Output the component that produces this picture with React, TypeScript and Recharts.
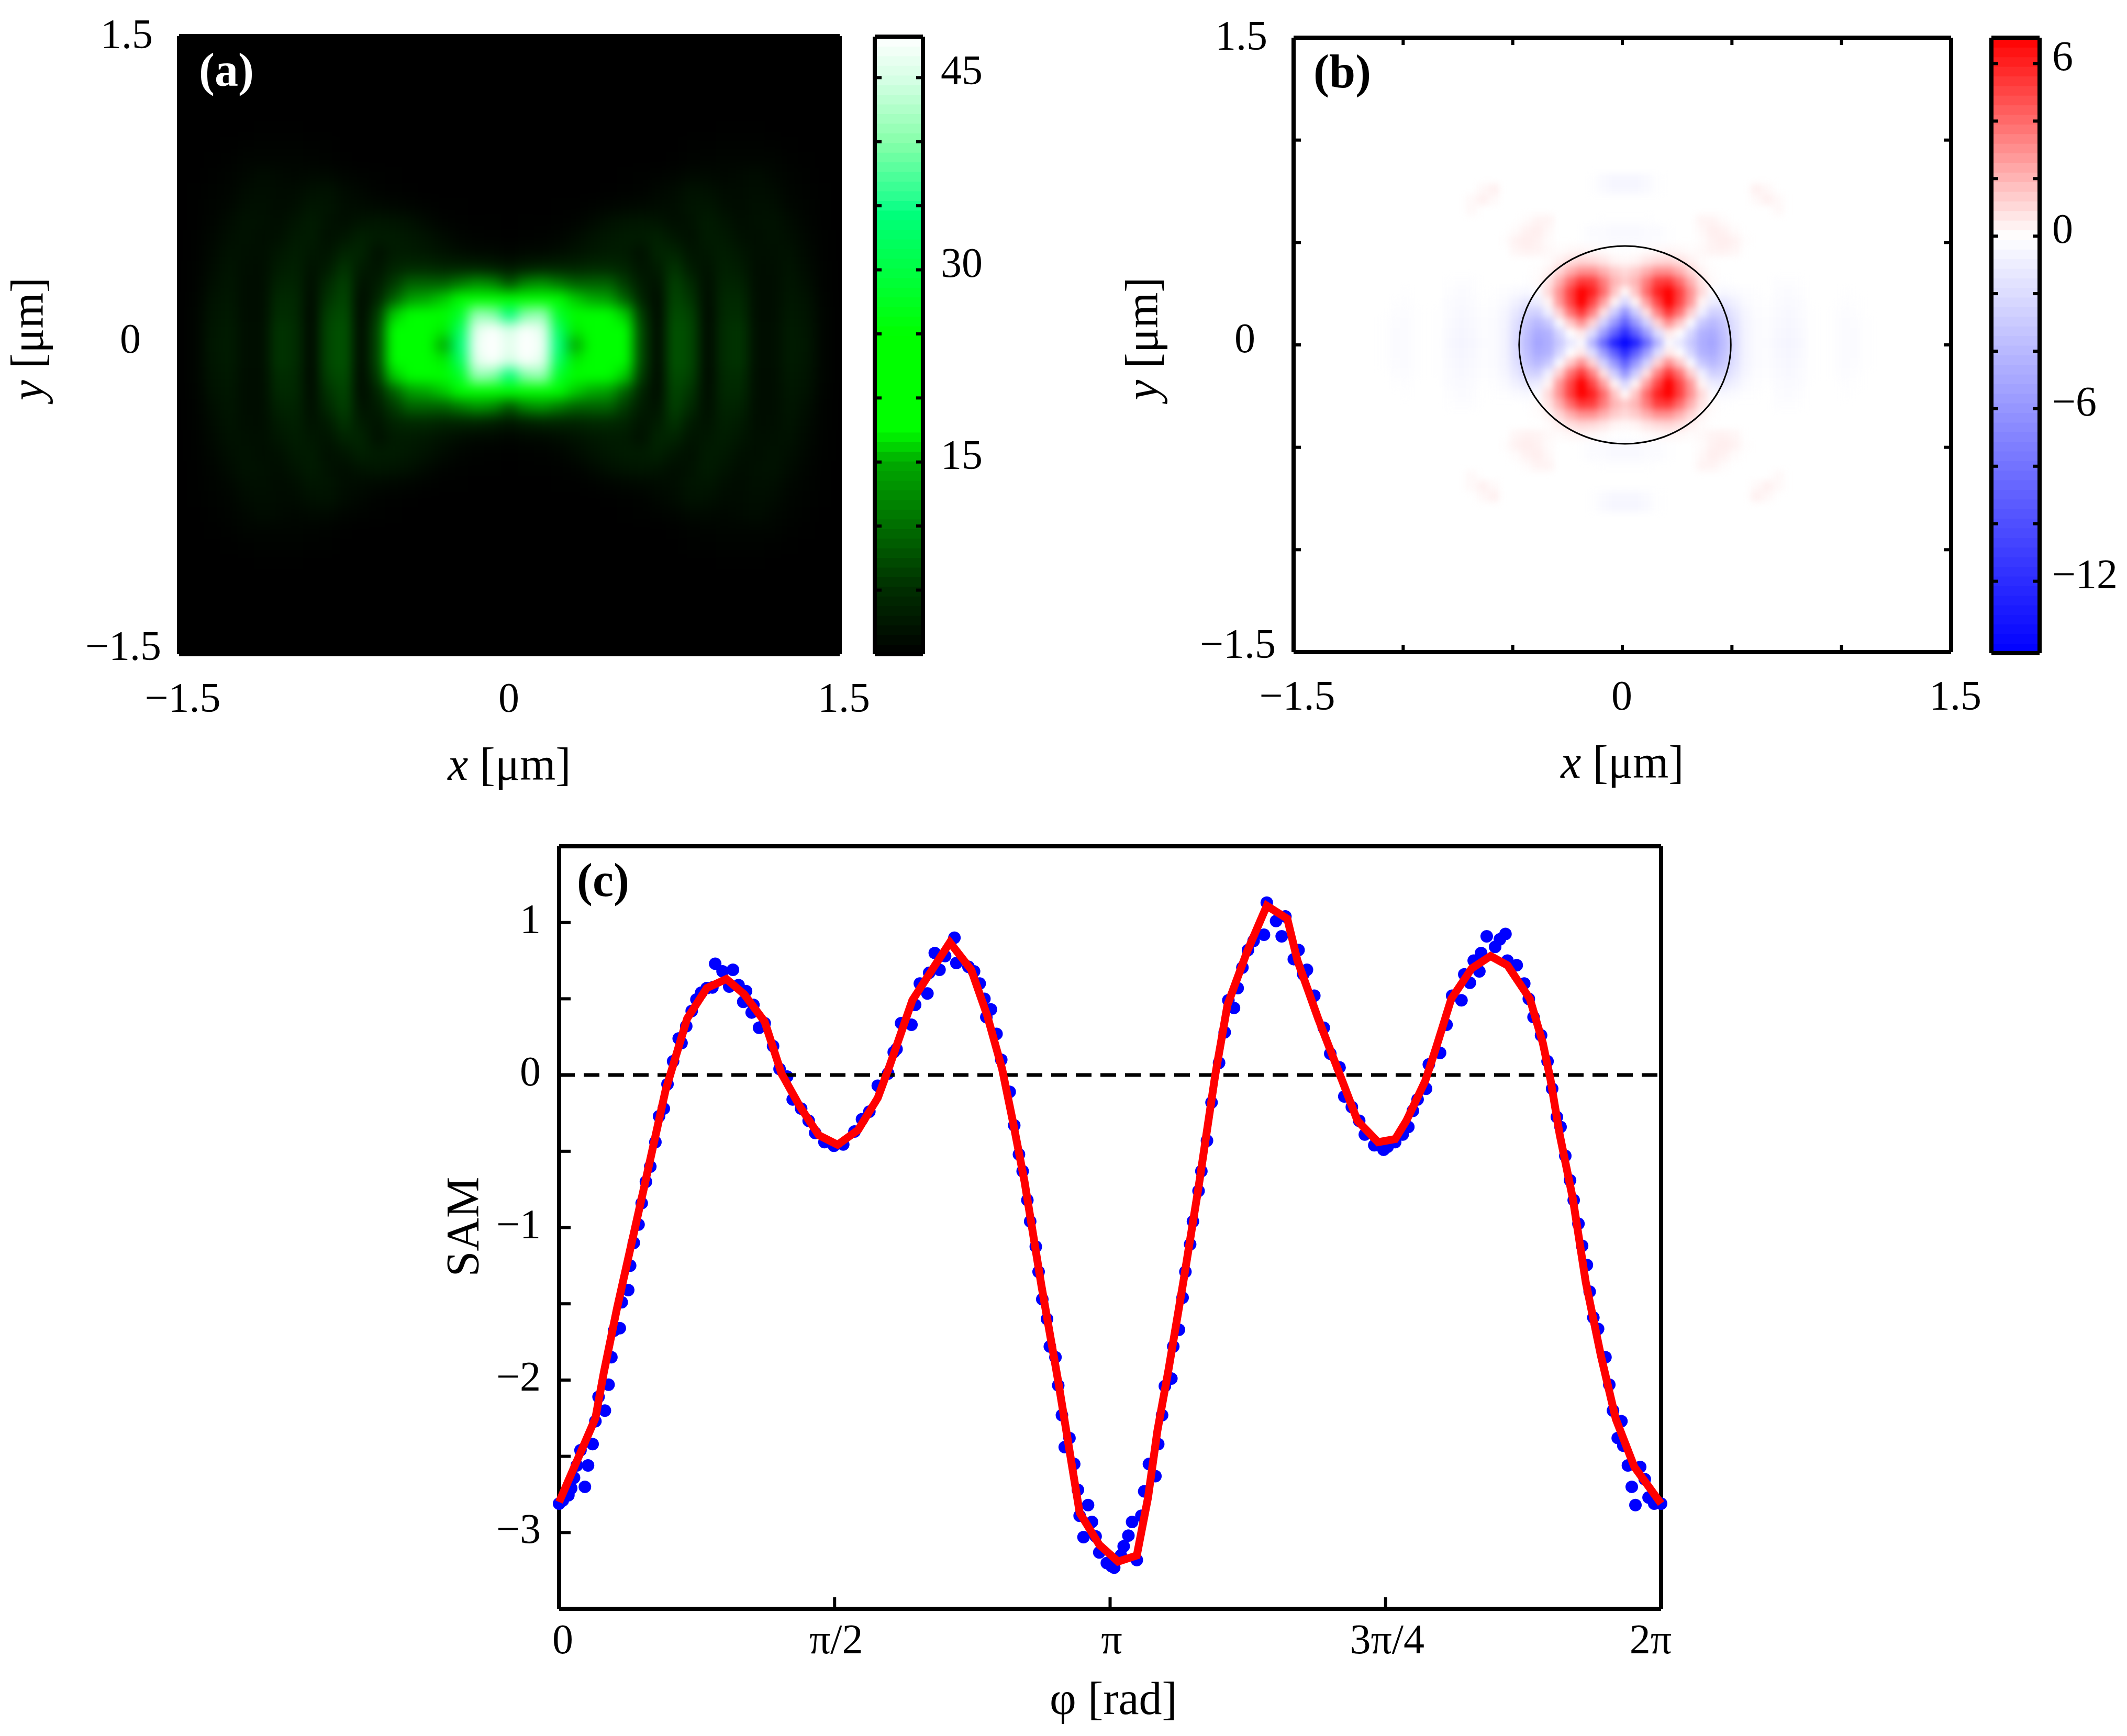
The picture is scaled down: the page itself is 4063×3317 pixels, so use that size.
import { ComposedChart, Line, ReferenceDot, ReferenceLine, Scatter, XAxis, YAxis } from "recharts";

const PAGE_W = 4063;
const PAGE_H = 3317;
const SERIF = "'Liberation Serif', serif";

// SAM panel, values: [phi in rad, SAM]
const samDots = [
  [0, -2.81], [0.021, -2.79], [0.053, -2.755], [0.069, -2.71], [0.085, -2.64], [0.101, -2.56], [0.122, -2.46],
  [0.147, -2.7], [0.165, -2.56], [0.191, -2.42], [0.207, -2.27], [0.261, -2.2], [0.225, -2.11], [0.282, -2.03],
  [0.298, -1.85], [0.314, -1.675], [0.346, -1.66], [0.357, -1.49], [0.394, -1.41], [0.405, -1.25], [0.426, -1.1],
  [0.453, -0.98], [0.471, -0.84], [0.495, -0.7], [0.52, -0.6], [0.549, -0.44], [0.57, -0.27], [0.597, -0.22],
  [0.618, -0.06], [0.65, 0.09], [0.682, 0.24], [0.698, 0.21], [0.725, 0.32], [0.756, 0.42], [0.783, 0.495],
  [0.81, 0.54], [0.842, 0.57], [0.874, 0.574], [0.89, 0.73], [0.932, 0.68], [0.991, 0.69], [0.97, 0.58],
  [1.023, 0.59], [1.066, 0.55], [1.05, 0.48], [1.108, 0.46], [1.098, 0.41], [1.172, 0.34], [1.14, 0.31],
  [1.22, 0.19], [1.257, 0.04], [1.3, -0.01], [1.332, -0.16], [1.38, -0.22], [1.423, -0.3], [1.46, -0.38],
  [1.513, -0.44], [1.567, -0.464], [1.62, -0.455], [1.684, -0.37], [1.727, -0.29], [1.769, -0.24], [1.817, -0.07],
  [1.876, 0.01], [1.908, 0.15], [1.924, 0.17], [1.95, 0.34], [2.009, 0.33], [2.03, 0.46], [2.057, 0.6],
  [2.1, 0.535], [2.11, 0.67], [2.169, 0.69], [2.142, 0.8], [2.201, 0.78], [2.254, 0.9], [2.265, 0.735],
  [2.334, 0.71], [2.366, 0.68], [2.398, 0.6], [2.425, 0.5], [2.462, 0.43], [2.436, 0.38], [2.494, 0.27],
  [2.521, 0.1], [2.569, -0.11], [2.595, -0.33], [2.622, -0.52], [2.643, -0.63], [2.67, -0.82], [2.686, -0.96],
  [2.718, -1.125], [2.734, -1.29], [2.755, -1.47], [2.782, -1.6], [2.798, -1.78], [2.83, -1.85], [2.846, -2.035],
  [2.867, -2.23], [2.91, -2.38], [2.883, -2.44], [2.937, -2.55], [2.958, -2.72], [3.016, -2.82], [2.968, -2.89],
  [3.038, -2.93], [2.99, -3.03], [3.059, -3.025], [3.08, -3.13], [3.123, -3.2], [3.15, -3.22], [3.165, -3.23],
  [3.203, -3.15], [3.219, -3.09], [3.246, -3.02], [3.267, -2.93], [3.294, -3.18], [3.32, -2.89], [3.336, -2.73],
  [3.363, -2.55], [3.4, -2.63], [3.416, -2.42], [3.438, -2.23], [3.454, -2.04], [3.491, -1.99], [3.502, -1.78],
  [3.534, -1.67], [3.555, -1.46], [3.571, -1.29], [3.598, -1.11], [3.614, -0.96], [3.646, -0.76], [3.662, -0.63],
  [3.694, -0.43], [3.72, -0.18], [3.763, 0.08], [3.795, 0.28], [3.816, 0.49], [3.848, 0.44], [3.869, 0.57],
  [3.896, 0.705], [3.928, 0.82], [3.96, 0.88], [4.019, 0.92], [4.035, 1.13], [4.088, 1.01], [4.12, 0.91],
  [4.141, 1.04], [4.189, 0.76], [4.216, 0.82], [4.243, 0.66], [4.264, 0.69], [4.306, 0.52], [4.36, 0.31],
  [4.397, 0.14], [4.45, 0.05], [4.477, -0.14], [4.52, -0.21], [4.562, -0.3], [4.594, -0.39], [4.648, -0.46],
  [4.701, -0.49], [4.724, -0.47], [4.767, -0.44], [4.81, -0.39], [4.842, -0.34], [4.868, -0.235], [4.895, -0.16],
  [4.943, -0.09], [4.959, 0.07], [5.023, 0.145], [5.06, 0.33], [5.092, 0.52], [5.145, 0.49], [5.161, 0.66],
  [5.193, 0.605], [5.215, 0.75], [5.247, 0.68], [5.257, 0.8], [5.289, 0.91], [5.337, 0.84], [5.364, 0.89],
  [5.396, 0.925], [5.407, 0.75], [5.46, 0.72], [5.503, 0.6], [5.529, 0.5], [5.556, 0.38], [5.599, 0.26],
  [5.636, 0.09], [5.662, -0.09], [5.689, -0.275], [5.71, -0.34], [5.737, -0.53], [5.764, -0.69], [5.785, -0.82],
  [5.812, -0.975], [5.833, -1.12], [5.86, -1.245], [5.876, -1.42], [5.897, -1.59], [5.924, -1.665], [5.966, -1.85],
  [5.988, -2.03], [6.009, -2.2], [6.057, -2.27], [6.036, -2.38], [6.068, -2.43], [6.094, -2.56], [6.116, -2.7],
  [6.137, -2.82], [6.164, -2.57], [6.19, -2.65], [6.212, -2.77], [6.244, -2.81], [6.283, -2.81],
];

const samFit = [
  [0, -2.8], [0.207, -2.25], [0.255, -1.95], [0.33, -1.53], [0.479, -0.765], [0.607, -0.1], [0.73, 0.37],
  [0.842, 0.57], [0.954, 0.63], [1.055, 0.53], [1.172, 0.35], [1.268, 0.01], [1.375, -0.21], [1.481, -0.395],
  [1.588, -0.457], [1.705, -0.36], [1.817, -0.15], [1.886, 0.065], [2.014, 0.49], [2.228, 0.87], [2.35, 0.69],
  [2.441, 0.39], [2.526, 0.04], [2.59, -0.32], [2.654, -0.7], [2.75, -1.38], [2.846, -2.01], [2.968, -2.87],
  [3.08, -3.08], [3.187, -3.19], [3.294, -3.15], [3.358, -2.77], [3.411, -2.335], [3.475, -1.93], [3.56, -1.35],
  [3.646, -0.735], [3.741, 0], [3.811, 0.46], [3.923, 0.81], [4.035, 1.11], [4.152, 1.025], [4.21, 0.75],
  [4.328, 0.37], [4.466, -0.04], [4.552, -0.3], [4.669, -0.44], [4.767, -0.42], [4.831, -0.3], [4.938, -0.04],
  [5.002, 0.185], [5.087, 0.5], [5.204, 0.7], [5.311, 0.78], [5.407, 0.72], [5.535, 0.5], [5.609, 0.21],
  [5.652, -0.025], [5.705, -0.39], [5.78, -0.81], [5.854, -1.36], [5.94, -1.84], [6.025, -2.255], [6.131, -2.57],
  [6.283, -2.81],
];

const samYTicks = [1, 0.5, 0, -0.5, -1, -1.5, -2, -2.5, -3];
const samYLabels = [1, 0, -1, -2, -3];
const samXTicks = [0, Math.PI / 2, Math.PI, (3 * Math.PI) / 2, 2 * Math.PI];
const samXLabels = ["0", "π/2", "π", "3π/4", "2π"];

// intensity map (a), one quadrant, the map is symmetric
// rows go y = 0, 0.075, ... and columns x = 0, 0.075, ...
const intensityStep = 0.075;
const intensityRows = [
  [46, 50, 47, 34, 15, 21, 24, 19, 7, 1, 8, 7, 1, 5, 5.5, 1.5, 1.5, 3, 2.5, 0.6],
  [45, 48, 46, 32, 17, 20, 23, 19, 7, 1, 8, 7, 1, 5, 5.5, 1.5, 1.5, 3, 2.4, 0.6],
  [34, 40, 41, 28, 19, 20, 20, 16, 6, 1, 7.5, 6.5, 1, 4.6, 5, 1.4, 1.4, 2.8, 2.2, 0.5],
  [20, 23, 25, 20, 16, 15, 14, 9, 4, 1.2, 7, 5.5, 1.2, 4.4, 4.6, 1.4, 1.4, 2.6, 2, 0.4],
  [8, 12, 13, 11, 9, 9, 9, 6, 3, 2, 6.5, 4.5, 1.5, 4, 3.8, 1.4, 1.4, 2.4, 1.6, 0.3],
  [2.5, 3.5, 4, 4, 4, 4.5, 4.5, 4, 2.2, 3, 5.5, 3, 2, 3.6, 3, 1.4, 1.6, 2.2, 1.2, 0.3],
  [0.6, 1, 1, 1.4, 2, 2.6, 3, 3, 1.8, 4, 4, 2.2, 2.5, 3.2, 2.4, 1.5, 1.8, 2, 1, 0.2],
  [0.1, 0.2, 0.3, 0.5, 1.2, 2, 2.6, 3, 3, 3.6, 2.4, 1.8, 3, 2.8, 1.8, 1.6, 2, 1.6, 0.8, 0.2],
  [0, 0.1, 0.1, 0.2, 0.4, 1, 1.8, 2.2, 2.4, 2.2, 1.5, 2, 3, 2.2, 1.4, 1.8, 2, 1.2, 0.6, 0.15],
  [0, 0, 0.05, 0.1, 0.1, 0.3, 0.5, 0.8, 1, 1.2, 1.4, 2.2, 2.4, 1.6, 1.2, 1.8, 1.6, 0.8, 0.4, 0.1],
  [0, 0, 0, 0, 0, 0.05, 0.1, 0.2, 0.3, 0.8, 1.2, 2, 1.8, 1.2, 1.2, 1.6, 1.2, 0.6, 0.3, 0.1],
  [0, 0, 0, 0, 0, 0, 0.05, 0.1, 0.2, 0.3, 0.6, 1, 1, 0.8, 1, 1.3, 0.8, 0.4, 0.2, 0.05],
  [0, 0, 0, 0, 0, 0, 0, 0, 0.05, 0.05, 0.1, 0.3, 0.4, 0.5, 0.6, 0.6, 0.5, 0.2, 0.1],
  [0, 0, 0, 0, 0, 0, 0, 0, 0, 0, 0, 0.2, 0.2, 0.3, 0.3, 0.3, 0.2, 0.1],
  [0, 0, 0, 0, 0, 0, 0, 0, 0, 0, 0, 0, 0.05, 0.1, 0.1, 0.1, 0.05],
];

// spin map (b), one quadrant, rows y = 0, 0.05, ... and columns x = 0, 0.05, ...
const spinStep = 0.05;
const spinCenter = [0.012, 0.01];
const spinRows = [
  [-14.5, -12.5, -8.5, -4.2, -0.3, -1.2, -3, -4.6, -5.2, -3.8, -2, -0.7, -0.25, -0.2, -0.45, -0.55, -0.4, -0.08, 0, -0.08, -0.25, -0.25, -0.05],
  [-12, -9, -5.5, -1.8, 0.6, 0, -2.2, -4.3, -4.8, -3.6, -1.9, -0.7, -0.2, -0.15, -0.4, -0.5, -0.35, -0.05, 0, -0.05, -0.2, -0.2, -0.05],
  [-9, -5.8, -2.5, 1.2, 3, 1.5, -0.3, -3, -4, -3.2, -1.7, -0.6, -0.2, -0.15, -0.35, -0.45, -0.3, -0.05, 0, -0.05, -0.2, -0.15, -0.05],
  [-6, -2.8, 0.8, 3.4, 5.4, 3.8, 1.3, -0.8, -2.6, -2.4, -1.3, -0.5, -0.15, -0.1, -0.3, -0.4, -0.25, -0.03, 0, -0.03, -0.15, -0.1],
  [-2.2, 0.3, 2.6, 5, 6.9, 5, 2.8, 0.3, -1, -1.3, -0.8, -0.3, -0.1, -0.05, -0.25, -0.3, -0.2, 0, 0, 0, -0.1, -0.05],
  [0.1, 1.6, 4, 6, 6.9, 5.2, 3, 1, -0.2, -0.4, -0.3, -0.1, -0.05, 0, -0.15, -0.2, -0.1, 0, 0, 0, -0.05],
  [1.4, 2, 3.6, 5.2, 5.4, 4, 2.2, 0.7, 0.1, -0.05, 0, 0, 0, 0, -0.1, -0.1, -0.05],
  [1, 1.4, 2.2, 3, 3, 2.2, 1.1, 0.3, 0.05],
  [0.2, 0.3, 0.7, 1, 1.1, 0.8, 0.4, 0.1],
  [-0.05, 0, 0.1, 0.2, 0.25, 0.2, 0.1, 0.15, 0.3, 0.35, 0.25],
  [-0.3, -0.3, -0.25, -0.15, -0.05, 0, 0, 0.1, 0.35, 0.5, 0.35, 0.05],
  [-0.35, -0.35, -0.25, -0.2, -0.05, 0, 0, 0.2, 0.45, 0.35, 0.1],
  [-0.05, -0.05, -0.03, 0, 0, 0, 0, 0.3, 0.3, 0.1],
  [0, 0, 0, 0, 0, 0, 0, 0, 0, 0, 0, 0, 0, 0, 0.2],
  [0, 0, 0, 0, 0, 0, 0, 0, 0, 0, 0, 0, 0.15, 0.4, 0.15],
  [-0.45, -0.45, -0.3, -0.08, 0, 0, 0, 0, 0, 0, 0, 0, 0.4, 0.2],
  [-0.5, -0.5, -0.35, -0.08],
];
const spinRingRadius = 0.483;

const heatTicks = [-1.5, -1, -0.5, 0, 0.5, 1, 1.5];
const heatLabels = [-1.5, 0, 1.5];

const intensityBarTicks = [5, 10, 15, 20, 25, 30, 35, 40, 45];
const intensityBarLabels = [15, 30, 45];
const spinBarTicks = [-12, -10, -8, -6, -4, -2, 0, 2, 4, 6];
const spinBarLabels = [-12, -6, 0, 6];

const greenStops = [
  [0, 0, 0, 0], [5, 0, 45, 0], [10, 0, 110, 0], [15, 0, 170, 0], [17.5, 0, 255, 0], [25, 0, 255, 0],
  [34.7, 0, 255, 128], [35.2, 30, 255, 140], [40, 135, 255, 170], [45, 215, 255, 230], [48.2, 255, 255, 255],
];
const spinStops = [
  [-14.5, 0, 0, 255], [0, 255, 255, 255], [6.9, 255, 0, 0],
];

const BAND_COUNT = 64;

function colorOf(stops: number[][], v: number) {
  if (v <= stops[0][0]) return `rgb(${stops[0][1]},${stops[0][2]},${stops[0][3]})`;
  for (let i = 1; i < stops.length; i++) {
    if (v <= stops[i][0]) {
      const a = stops[i - 1];
      const b = stops[i];
      const t = (v - a[0]) / (b[0] - a[0]);
      const c = [1, 2, 3].map((k) => Math.round(a[k] + (b[k] - a[k]) * t));
      return `rgb(${c[0]},${c[1]},${c[2]})`;
    }
  }
  const last = stops[stops.length - 1];
  return `rgb(${last[1]},${last[2]},${last[3]})`;
}

function quadrantCells(rows: number[][], step: number, cx = 0, cy = 0) {
  const cells: { x: number; y: number; v: number }[] = [];
  rows.forEach((row, j) => {
    row.forEach((v, i) => {
      if (v === 0) return;
      for (const sx of i === 0 ? [1] : [-1, 1]) {
        for (const sy of j === 0 ? [1] : [-1, 1]) {
          cells.push({ x: cx + sx * i * step, y: cy + sy * j * step, v });
        }
      }
    });
  });
  return cells;
}

function bandCells(lo: number, hi: number) {
  const h = (hi - lo) / BAND_COUNT;
  return Array.from({ length: BAND_COUNT }, (_, i) => ({ x: 0.5, y: lo + (i + 0.5) * h, v: lo + (i + 0.5) * h }));
}

const minus = (v: number | string) => String(v).replace("-", "\u2212");
const blankTick = () => <g />;

function chartMargin(r: { left: number; top: number; right: number; bottom: number }) {
  return { left: r.left, top: r.top, right: PAGE_W - r.right, bottom: PAGE_H - r.bottom };
}

const pageChart = { width: PAGE_W, height: PAGE_H, style: { position: "absolute", left: 0, top: 0 } } as const;
const frameLine = { stroke: "#000", strokeWidth: 8 };
const tickStroke = { stroke: "#000", strokeWidth: 6 };

function cellShape(w: number, h: number, stops: number[][]) {
  return (p: any) => (
    <rect x={p.cx - w / 2 - 0.5} y={p.cy - h / 2 - 0.5} width={w + 1} height={h + 1} fill={colorOf(stops, p.payload.v)} />
  );
}

function HeatPanel({ rect, rows, step, center, stops, blurId, bg, tag, tagFill, children }: any) {
  const w = rect.right - rect.left;
  const h = rect.bottom - rect.top;
  const cells = quadrantCells(rows, step, center[0], center[1]);

  const xTick = (p: any) => {
    const v = p.payload.value;
    if (!heatLabels.includes(v)) return <g />;
    const shift = v < 0 ? 7 : v > 0 ? 8 : -1;
    return (
      <text x={p.payload.coordinate + shift} y={rect.bottom + 110} textAnchor="middle" fontFamily={SERIF} fontSize={80}>
        {minus(v)}
      </text>
    );
  };
  const yTick = (p: any) => {
    const v = p.payload.value;
    if (!heatLabels.includes(v)) return <g />;
    const right = v > 0 ? rect.left - 50 : v < 0 ? rect.left - 34 : rect.left - 73;
    const shift = v > 0 ? 23 : v < 0 ? 11 : 14;
    return (
      <text x={right} y={p.payload.coordinate + shift} textAnchor="end" fontFamily={SERIF} fontSize={80}>
        {minus(v)}
      </text>
    );
  };

  return (
    <div className={blurId}>
      <ComposedChart {...pageChart} margin={chartMargin(rect)}>
        <rect x={rect.left} y={rect.top} width={w} height={h} fill={bg} />
        <XAxis xAxisId="b" type="number" dataKey="x" domain={[-1.5, 1.5]} ticks={heatTicks} interval={0} orientation="bottom" mirror
          tickSize={14} axisLine={frameLine} tickLine={tickStroke} tick={xTick} allowDataOverflow />
        <XAxis xAxisId="t" type="number" dataKey="x" domain={[-1.5, 1.5]} ticks={heatTicks} interval={0} orientation="top" mirror
          tickSize={14} axisLine={frameLine} tickLine={tickStroke} tick={blankTick} allowDataOverflow />
        <YAxis yAxisId="l" type="number" dataKey="y" domain={[-1.5, 1.5]} ticks={heatTicks} interval={0} orientation="left" mirror
          tickSize={14} axisLine={frameLine} tickLine={tickStroke} tick={yTick} allowDataOverflow />
        <YAxis yAxisId="r" type="number" dataKey="y" domain={[-1.5, 1.5]} ticks={heatTicks} interval={0} orientation="right" mirror
          tickSize={14} axisLine={frameLine} tickLine={tickStroke} tick={blankTick} allowDataOverflow />
        <Scatter xAxisId="b" yAxisId="l" data={cells} isAnimationActive={false}
          shape={cellShape((step / 3) * w, (step / 3) * h, stops)} />
        {children}
        <text x={rect.left + 38} y={rect.top + 95} fontFamily={SERIF} fontWeight="bold" fontSize={90} fill={tagFill}>{tag}</text>
        <text x={(rect.left + rect.right) / 2} y={rect.bottom + 240} textAnchor="middle" fontFamily={SERIF} fontSize={88}>
          <tspan fontStyle="italic">x</tspan> [{"\u03bc"}m]
        </text>
        <text transform={`translate(${rect.left - 260} ${(rect.top + rect.bottom) / 2 - 12}) rotate(-90)`} textAnchor="middle" fontFamily={SERIF} fontSize={88}>
          <tspan fontStyle="italic">y</tspan> [{"\u03bc"}m]
        </text>
      </ComposedChart>
    </div>
  );
}

function ColorBar({ rect, lo, hi, stops, ticks, labels, labelX }: any) {
  const w = rect.right - rect.left;
  const h = rect.bottom - rect.top;
  const cells = bandCells(lo, hi);
  const labelTick = (p: any) =>
    labels.includes(p.payload.value) ? (
      <text x={labelX} y={p.payload.coordinate + 13} fontFamily={SERIF} fontSize={80}>{minus(p.payload.value)}</text>
    ) : (
      <g />
    );
  const xAxisProps = { type: "number", dataKey: "x", domain: [0, 1], mirror: true, hide: true } as const;
  return (
    <>
      <ComposedChart {...pageChart} margin={chartMargin(rect)}>
        <XAxis xAxisId="b" {...xAxisProps} orientation="bottom" />
        <YAxis yAxisId="l" type="number" dataKey="y" domain={[lo, hi]} orientation="left" mirror hide allowDataOverflow />
        <Scatter xAxisId="b" yAxisId="l" data={cells} isAnimationActive={false} shape={cellShape(w, h / BAND_COUNT, stops)} />
      </ComposedChart>
      <ComposedChart {...pageChart} margin={chartMargin(rect)}>
        <XAxis xAxisId="b" type="number" domain={[0, 1]} ticks={[0, 1]} interval={0} orientation="bottom" mirror axisLine={frameLine} tickLine={false} tick={blankTick} />
        <XAxis xAxisId="t" type="number" domain={[0, 1]} ticks={[0, 1]} interval={0} orientation="top" mirror axisLine={frameLine} tickLine={false} tick={blankTick} />
        <YAxis yAxisId="l" type="number" domain={[lo, hi]} ticks={ticks} interval={0} orientation="left" mirror allowDataOverflow
          tickSize={13} axisLine={frameLine} tickLine={tickStroke} tick={labelTick} />
        <YAxis yAxisId="r" type="number" domain={[lo, hi]} ticks={ticks} interval={0} orientation="right" mirror allowDataOverflow
          tickSize={13} axisLine={frameLine} tickLine={tickStroke} tick={blankTick} />
        <Line xAxisId="b" yAxisId="l" data={[]} dataKey="y" isAnimationActive={false} />
      </ComposedChart>
    </>
  );
}

function SamPanel() {
  const rect = { left: 1068, top: 1617, right: 3173, bottom: 3074 };
  const dots = samDots.map(([phi, sam]) => ({ phi, sam }));
  const fit = samFit.map(([phi, sam]) => ({ phi, sam }));
  const labelCenters = [1075, null, null, null, 3153];
  const xTick = (p: any) => {
    const i = samXTicks.indexOf(p.payload.value);
    if (i < 0) return <g />;
    return (
      <text x={labelCenters[i] ?? p.payload.coordinate + 3} y={rect.bottom + 85} textAnchor="middle" fontFamily={SERIF} fontSize={80}>
        {samXLabels[i]}
      </text>
    );
  };
  const yTick = (p: any) =>
    samYLabels.includes(p.payload.value) ? (
      <text x={1033} y={p.payload.coordinate + 20} textAnchor="end" fontFamily={SERIF} fontSize={80}>{minus(p.payload.value)}</text>
    ) : (
      <g />
    );
  const dot = (p: any) => <circle cx={p.cx} cy={p.cy} r={12} fill="#0000ff" />;
  return (
    <>
      <ComposedChart {...pageChart} margin={chartMargin(rect)}>
        <XAxis xAxisId="b" type="number" dataKey="phi" domain={[0, 2 * Math.PI]} ticks={samXTicks} interval={0} orientation="bottom" mirror
          tickSize={22} axisLine={frameLine} tickLine={tickStroke} tick={xTick} />
        <XAxis xAxisId="t" type="number" dataKey="phi" domain={[0, 2 * Math.PI]} ticks={samXTicks} interval={0} orientation="top" mirror
          tickSize={22} axisLine={frameLine} tickLine={tickStroke} tick={blankTick} />
        <YAxis yAxisId="l" type="number" dataKey="sam" domain={[-3.5, 1.5]} ticks={samYTicks} interval={0} orientation="left" mirror
          tickSize={22} axisLine={frameLine} tickLine={tickStroke} tick={yTick} />
        <YAxis yAxisId="r" type="number" dataKey="sam" domain={[-3.5, 1.5]} ticks={samYTicks} interval={0} orientation="right" mirror
          tickSize={22} axisLine={frameLine} tickLine={tickStroke} tick={blankTick} />
        <Scatter xAxisId="b" yAxisId="l" data={dots} isAnimationActive={false} shape={dot} />
        <text x={1102} y={1712} fontFamily={SERIF} fontWeight="bold" fontSize={90}>(c)</text>
        <text x={2127} y={3275} textAnchor="middle" fontFamily={SERIF} fontSize={88}>{"\u03c6"} [rad]</text>
        <text transform="translate(913 2344) rotate(-90)" textAnchor="middle" fontFamily={SERIF} fontSize={88}>SAM</text>
      </ComposedChart>
      <ComposedChart {...pageChart} margin={chartMargin(rect)}>
        <XAxis xAxisId="b" type="number" dataKey="phi" domain={[0, 2 * Math.PI]} orientation="bottom" mirror hide />
        <YAxis yAxisId="l" type="number" dataKey="sam" domain={[-3.5, 1.5]} orientation="left" mirror hide />
        <ReferenceLine xAxisId="b" yAxisId="l" y={0} stroke="#000" strokeWidth={7} strokeDasharray="30 17" />
        <Line xAxisId="b" yAxisId="l" data={fit} dataKey="sam" type="linear" stroke="#ff0000" strokeWidth={15} strokeLinejoin="miter" dot={false} isAnimationActive={false} />
      </ComposedChart>
    </>
  );
}

export default function App() {
  const rectA = { left: 342, top: 69, right: 1604, bottom: 1250 };
  const rectB = { left: 2471, top: 72, right: 3727, bottom: 1246 };
  const ringRx = (spinRingRadius / 3) * (rectB.right - rectB.left);
  const ringRy = (spinRingRadius / 3) * (rectB.bottom - rectB.top);
  return (
    <div style={{ position: "absolute", left: 0, top: 0, width: PAGE_W, height: PAGE_H, background: "#fff", overflow: "hidden" }}>
      <style>{`
        .blurA .recharts-scatter { filter: url(#blurA); }
        .blurB .recharts-scatter { filter: url(#blurB); }
      `}</style>
      <svg width={1} height={1} style={{ position: "absolute" }}>
        <defs>
          <filter id="blurA" filterUnits="userSpaceOnUse" x={0} y={0} width={PAGE_W} height={PAGE_H} colorInterpolationFilters="sRGB">
            <feGaussianBlur stdDeviation={12} />
          </filter>
          <filter id="blurB" filterUnits="userSpaceOnUse" x={0} y={0} width={PAGE_W} height={PAGE_H} colorInterpolationFilters="sRGB">
            <feGaussianBlur stdDeviation={7} />
          </filter>
        </defs>
      </svg>
      <HeatPanel rect={rectA} rows={intensityRows} step={intensityStep} center={[0, 0]} stops={greenStops} blurId="blurA" bg="#000" tag="(a)" tagFill="#fff" />
      <ColorBar rect={{ left: 1671, top: 70, right: 1763, bottom: 1250 }} lo={0} hi={48.2} stops={greenStops} ticks={intensityBarTicks} labels={intensityBarLabels} labelX={1797} />
      <HeatPanel rect={rectB} rows={spinRows} step={spinStep} center={spinCenter} stops={spinStops} blurId="blurB" bg="#fff" tag="(b)" tagFill="#000">
        <ReferenceDot xAxisId="b" yAxisId="l" x={spinCenter[0]} y={0} r={1} ifOverflow="visible"
          shape={(p: any) => <ellipse cx={p.cx} cy={p.cy} rx={ringRx} ry={ringRy} fill="none" stroke="#000" strokeWidth={3} />} />
      </HeatPanel>
      <ColorBar rect={{ left: 3804, top: 72, right: 3896, bottom: 1248 }} lo={-14.5} hi={6.9} stops={spinStops} ticks={spinBarTicks} labels={spinBarLabels} labelX={3920} />
      <SamPanel />
    </div>
  );
}
